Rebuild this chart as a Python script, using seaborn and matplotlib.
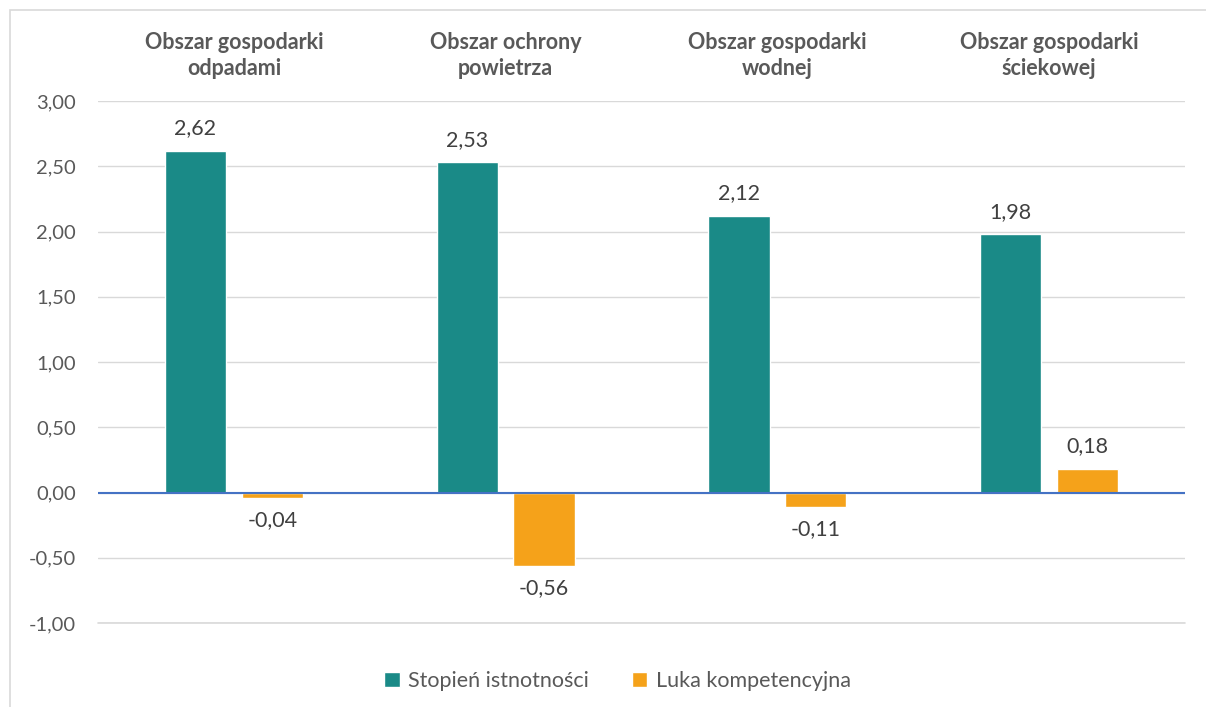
import pandas as pd
import matplotlib
matplotlib.use("Agg")
import matplotlib.pyplot as plt
import seaborn as sns
from matplotlib.patches import Rectangle

# Data
categories = ["Obszar gospodarki\nodpadami", "Obszar ochrony\npowietrza",
              "Obszar gospodarki\nwodnej", "Obszar gospodarki\nściekowej"]
stopien = [2.62, 2.53, 2.12, 1.98]
luka = [-0.04, -0.56, -0.11, 0.18]
series_names = ["Stopień istnotności", "Luka kompetencyjna"]
y_ticks = [-1.0, -0.5, 0.0, 0.5, 1.0, 1.5, 2.0, 2.5, 3.0]

colors = ["#1A8A87", "#F5A21A"]
text_col = "#595959"

df = pd.DataFrame({
    "kategoria": categories * 2,
    "seria": [series_names[0]] * 4 + [series_names[1]] * 4,
    "wartosc": stopien + luka,
})

sns.set_theme(style="white")
plt.rcParams["font.family"] = ["Lato", "DejaVu Sans"]

fig = plt.figure(figsize=(12.06, 7.07), dpi=100)
ax = fig.add_axes([98 / 1206, 1 - 623 / 707, (1185 - 98) / 1206, (623 - 101) / 707])

sns.barplot(data=df, x="kategoria", y="wartosc", hue="seria", palette=colors,
            width=0.565, gap=0.2, saturation=1, ax=ax, legend=True)

ax.set_ylim(-1.0, 3.0)
ax.set_xlim(-0.5, 3.5)
ax.set_yticks(y_ticks)
ax.set_yticklabels([f"{v:.2f}".replace(".", ",") for v in y_ticks], color=text_col, fontsize=14.5)
ax.grid(axis="y", color="#D9D9D9", lw=1)
ax.set_axisbelow(True)
# bottom gridline sits on the axes edge, draw it unclipped
ax.axhline(-1.0, color="#D9D9D9", lw=1.2, clip_on=False, zorder=0)
ax.axhline(0, color="#4472C4", lw=1.5, zorder=3)
for s in ax.spines.values():
    s.set_visible(False)
ax.tick_params(axis="y", length=0, pad=16)
ax.tick_params(axis="x", length=0, labeltop=True, labelbottom=False, pad=16)
ax.set_xticks(range(len(categories)))
ax.set_xticklabels(categories, fontsize=15.5, fontweight="bold", color=text_col, linespacing=1.3)
ax.set_xlabel("")
ax.set_ylabel("")

for cont in ax.containers:
    ax.bar_label(cont, labels=[f"{v:.2f}".replace(".", ",") for v in cont.datavalues],
                 padding=9, fontsize=15.5, color="#404040")

leg = ax.legend(loc="upper center", bbox_to_anchor=(0.478, -0.055), ncol=2, frameon=False,
                fontsize=15.5, handlelength=0.7, handleheight=0.7, handletextpad=0.4,
                columnspacing=2.0, labelcolor=text_col)

fig.patches.append(Rectangle((10 / 1206, -0.1), 2, 1.1 - 10 / 707, transform=fig.transFigure,
                             fill=False, edgecolor="#D9D9D9", lw=1.2, figure=fig))

fig.savefig("out.png", dpi=100)
